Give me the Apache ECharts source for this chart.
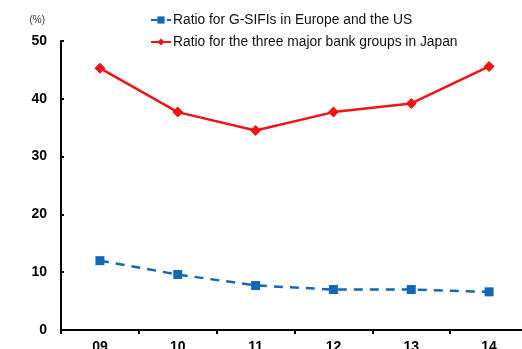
<!DOCTYPE html>
<html>
<head>
<meta charset="utf-8">
<script src="https://cdn.jsdelivr.net/npm/echarts@6/dist/echarts.min.js"></script>
<style>
  html, body { margin: 0; padding: 0; background: #fff; }
  #chart { width: 522px; height: 349px; }
</style>
</head>
<body>
<div id="chart"></div>
<script>
// Fiscal years (two-digit labels)
const years = ['09', '10', '11', '12', '13', '14'];
// Ratio for G-SIFIs in Europe and the US (%)
const gsifiRatio = [12.0, 9.6, 7.7, 7.0, 7.0, 6.6];
// Ratio for the three major bank groups in Japan (%)
const japanRatio = [45.3, 37.7, 34.5, 37.7, 39.2, 45.6];
const seriesNames = [
  'Ratio for G-SIFIs in Europe and the US',
  'Ratio for the three major bank groups in Japan'
];
const yTicks = { min: 0, max: 50, interval: 10 };

const chart = echarts.init(document.getElementById('chart'), null, { renderer: 'canvas' });
chart.setOption({
  animation: false,
  backgroundColor: '#ffffff',
  textStyle: { fontFamily: 'Liberation Sans, Arial, sans-serif' },
  legend: {
    orient: 'vertical',
    left: 145,
    top: 8,
    itemGap: 8,
    itemWidth: 20,
    itemHeight: 9,
    textStyle: { fontSize: 13.8, color: '#111', fontFamily: 'Liberation Sans, Arial, sans-serif', padding: [0, 0, 0, -3] },
    data: seriesNames
  },
  grid: { left: 61, top: 41, width: 467, height: 289, containLabel: false, outerBoundsMode: 'none' },
  xAxis: {
    type: 'category',
    data: years,
    boundaryGap: true,
    axisLine: { lineStyle: { color: '#000', width: 2 } },
    axisTick: { show: true, length: 4, inside: false, lineStyle: { color: '#000', width: 2 } },
    axisLabel: { color: '#000', fontSize: 14, fontWeight: 'bold', margin: 10 }
  },
  yAxis: {
    type: 'value',
    min: yTicks.min,
    max: yTicks.max,
    interval: yTicks.interval,
    name: '(%)',
    nameLocation: 'end',
    nameGap: 16,
    nameTextStyle: { color: '#333', fontSize: 10, align: 'right', padding: [0, 16, 0, 0] },
    axisLine: { show: true, lineStyle: { color: '#000', width: 2 } },
    axisTick: { show: true, inside: true, length: 3, lineStyle: { color: '#000', width: 2 } },
    axisLabel: { color: '#000', fontSize: 14, fontWeight: 'bold', margin: 14 },
    splitLine: { show: false }
  },
  series: [
    {
      name: seriesNames[0],
      type: 'line',
      data: gsifiRatio,
      symbol: 'rect',
      symbolSize: 9,
      color: '#1467b8',
      lineStyle: { color: '#1467b8', width: 2.5, type: [9, 7] },
      itemStyle: { color: '#1467b8' }
    },
    {
      name: seriesNames[1],
      type: 'line',
      data: japanRatio,
      symbol: 'diamond',
      symbolSize: 11,
      color: '#f01414',
      lineStyle: { color: '#f01414', width: 2.5 },
      itemStyle: { color: '#f01414' }
    }
  ]
});
</script>
</body>
</html>
